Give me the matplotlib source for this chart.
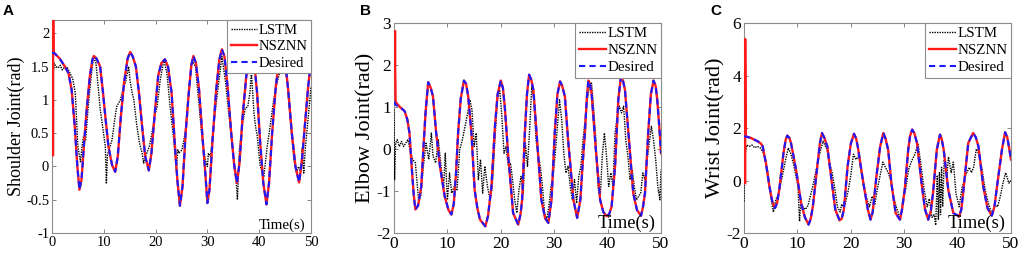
import numpy as np
import matplotlib
matplotlib.use('Agg')
import matplotlib.pyplot as plt

# =============================================================================
# Data
# =============================================================================
# --- Panel A: shoulder joint ---
A_DES_T = [0, 0.5, 1.5, 2.5, 3.2, 3.8, 4.4, 4.9, 5.3, 5.7, 6.2, 6.7, 7.3, 7.8, 8.1,
           8.6, 9.3, 9.8, 10.3, 10.9, 11.6, 12.2, 12.7, 13.3, 13.9, 14.6, 15.1,
           15.6, 16.2, 16.8, 17.4, 18.0, 18.7, 19.2, 19.9, 20.5, 21.1, 21.8, 22.4,
           23.1, 23.7, 24.2, 24.7, 25.2, 25.8, 26.4, 26.9, 27.3, 27.8, 28.4, 29.0,
           29.6, 30.0, 30.4, 31.0, 31.7, 32.3, 32.8, 33.3, 33.9, 34.6, 35.2, 35.7,
           36.2, 36.8, 37.5, 38.0, 38.5, 39.0, 39.6, 40.2, 40.8, 41.4, 41.9, 42.5,
           43.2, 43.9, 44.5, 45.0, 45.6, 46.3, 47.0, 47.7, 48.2, 48.8, 49.4, 50.0]
A_DES_V = [1.71, 1.70, 1.62, 1.50, 1.40, 1.15, 0.60, 0.00, -0.35, -0.20, 0.35, 0.85,
           1.35, 1.60, 1.66, 1.62, 1.50, 1.15, 0.75, 0.30, 0.02, -0.08, 0.15, 0.75,
           1.25, 1.62, 1.72, 1.65, 1.50, 1.10, 0.60, 0.15, -0.06, 0.20, 0.85, 1.36,
           1.55, 1.61, 1.50, 1.10, 0.35, -0.20, -0.59, -0.30, 0.50, 1.10, 1.52, 1.66,
           1.55, 1.15, 0.50, -0.10, -0.55, -0.35, 0.40, 1.15, 1.60, 1.76, 1.65, 1.20,
           0.50, 0.00, -0.25, 0.05, 0.75, 1.35, 1.62, 1.72, 1.60, 1.10, 0.35, -0.25,
           -0.57, -0.25, 0.50, 1.20, 1.62, 1.72, 1.60, 1.15, 0.50, 0.00, -0.24, 0.05,
           0.60, 1.15, 1.60]
A_LSTM_T = [0, 0.2, 0.4, 0.8, 1.2, 1.6, 2.0, 2.5, 3.0, 3.5, 4.0, 4.5, 5.0, 5.5, 5.8,
            6.1, 6.5, 7.0, 7.5, 8.0, 8.5, 9.3, 10.0, 10.3, 10.5, 10.7, 11.2, 11.6,
            12.1, 12.5, 13.2, 13.7, 14.2, 14.8, 15.1, 15.5, 15.8, 16.4, 16.9, 17.4,
            17.7, 18.0, 18.3, 18.8, 19.3, 19.8, 20.3, 20.9, 21.6, 22.2, 22.8, 23.5,
            24.0, 24.3, 24.5, 25.1, 25.7, 26.4, 27.0, 27.7, 28.3, 29.0, 29.6, 30.0,
            30.2, 30.6, 31.2, 31.7, 32.2, 32.8, 33.5, 34.4, 35.1, 35.4, 35.8, 36.2,
            36.7, 37.3, 37.8, 38.2, 38.5, 39.0, 39.3, 39.6, 40.2, 40.9, 41.5, 42.1,
            42.8, 43.3, 43.8, 44.3, 44.7, 45.4, 46.0, 46.7, 47.2, 47.6, 48.0, 48.3,
            48.6, 48.9, 49.5, 50.0]
A_LSTM_V = [1.60, 1.38, 1.55, 1.50, 1.48, 1.52, 1.45, 1.50, 1.48, 1.40, 1.32, 1.10,
            0.30, 0.07, 0.30, 0.45, 0.40, 0.90, 1.30, 1.65, 1.55, 0.87, 0.47, 0.30,
            -0.26, 0.17, 0.30, 0.40, 0.70, 0.90, 1.00, 1.15, 1.27, 1.50, 1.27, 1.10,
            1.00, 0.60, 0.35, 0.20, 0.05, 0.15, 0.20, 0.30, 0.50, 0.75, 0.90, 1.30,
            1.60, 1.40, 0.90, 0.40, -0.05, 0.25, 0.20, 0.25, 0.50, 1.10, 1.60, 1.50,
            1.00, 0.40, 0.10, 0.00, 0.20, 0.15, 0.60, 0.95, 1.27, 1.65, 1.27, 0.60,
            0.10, -0.05, -0.50, 0.27, 0.60, 0.87, 0.90, 1.10, 1.40, 0.80, 0.60, 0.47,
            0.00, -0.15, 0.27, 0.60, 1.00, 1.20, 1.37, 1.50, 1.60, 1.27, 0.70, 0.10,
            -0.10, 0.00, -0.08, 0.27, -0.10, 0.27, 0.77, 1.20]
A_NSZNN_T0 = [0.22, 0.22, 0.3]
A_NSZNN_V0 = [0.17, 2.6, 1.71]

# --- Panel B: elbow joint ---
B_DES_T = [0, 0.3, 1.1, 2.0, 2.5, 2.9, 3.3, 3.7, 4.0, 4.5, 5.1, 5.5, 5.9, 6.4, 6.9,
           7.3, 7.9, 8.6, 9.5, 10.2, 10.75, 11.2, 11.6, 12.0, 12.5, 13.1, 13.5,
           13.9, 14.5, 15.1, 15.6, 16.1, 17.1, 17.6, 18.25, 18.9, 19.4, 20.0, 20.4,
           20.75, 21.4, 22.3, 23.25, 23.7, 24.0, 24.5, 24.9, 25.3, 25.7, 26.1, 26.7,
           27.6, 28.3, 28.9, 29.5, 30.1, 30.6, 31.1, 31.5, 32.0, 32.6, 33.6, 34.3,
           34.9, 35.3, 35.75, 36.1, 36.4, 36.7, 37.0, 37.8, 38.6, 39.2, 39.8, 40.3,
           40.75, 41.4, 42.0, 42.5, 42.9, 43.25, 43.9, 44.8, 45.5, 46.25, 46.6, 47.0,
           47.6, 48.1, 48.6, 49.0, 49.3, 49.7, 50.0]
B_DES_V = [1.13, 1.05, 1.00, 0.90, 0.70, 0.38, -0.40, -1.10, -1.44, -1.35, -0.90,
           0.00, 0.85, 1.59, 1.45, 1.25, 0.38, -0.41, -1.13, -1.45, -1.56, -1.30,
           -0.60, 0.38, 1.20, 1.63, 1.55, 1.25, 0.38, -0.97, -1.40, -1.68, -1.84,
           -1.60, -0.89, 0.54, 1.30, 1.63, 1.45, 1.00, -0.17, -1.52, -1.80, -1.55,
           -1.20, 0.38, 1.30, 1.77, 1.65, 1.41, 0.38, -1.21, -1.65, -1.76, -1.21,
           0.38, 1.30, 1.61, 1.50, 1.25, 0.22, -1.21, -1.64, -1.21, -0.40, 0.38,
           1.20, 1.63, 1.55, 1.33, -0.02, -1.21, -1.50, -1.60, -1.55, -1.37, -0.41,
           1.17, 1.73, 1.62, 1.41, 0.38, -1.05, -1.45, -1.59, -1.40, -1.05, 0.38,
           1.30, 1.63, 1.50, 1.17, 0.50, -0.10]
B_LSTM_T = [0, 0.1, 0.3, 0.6, 1.0, 1.4, 1.8, 2.2, 2.6, 3.0, 3.5, 4.0, 4.6, 5.0, 5.5,
            6.0, 6.5, 7.0, 7.3, 7.8, 8.3, 8.8, 9.3, 9.6, 10.0, 10.4, 10.8, 11.3,
            11.8, 12.3, 12.8, 13.3, 13.8, 14.2, 14.6, 15.0, 15.4, 15.8, 16.2, 16.6,
            17.0, 17.5, 18.0, 18.4, 18.9, 19.4, 19.8, 20.2, 20.6, 21.0, 21.4, 21.8,
            22.2, 22.6, 23.0, 23.4, 23.8, 24.2, 24.6, 25.0, 25.4, 25.8, 26.2, 26.6,
            27.0, 27.4, 27.8, 28.2, 28.6, 29.0, 29.4, 29.8, 30.2, 30.6, 31.0, 31.4,
            31.8, 32.2, 32.6, 33.0, 33.4, 33.8, 34.2, 34.6, 35.0, 35.4, 35.8, 36.2,
            36.6, 37.0, 37.4, 37.8, 38.2, 38.6, 39.0, 39.4, 39.8, 40.2, 40.6, 41.0,
            41.4, 41.8, 42.2, 42.6, 43.0, 43.4, 43.8, 44.2, 44.6, 45.0, 45.4, 45.8,
            46.2, 46.6, 47.0, 47.4, 47.8, 48.2, 48.6, 49.0, 49.4, 49.8, 50.0]
B_LSTM_V = [0.94, -0.73, 0.14, 0.22, 0.06, 0.18, 0.06, 0.14, 0.22, -0.02, -0.25,
            -0.33, -1.21, -1.13, -0.41, 0.14, -0.25, 0.38, -0.17, -0.33, 0.22, -0.41,
            -0.89, -0.10, -1.21, -0.57, -1.05, -0.89, -0.97, -0.02, 0.22, 0.54, 0.86,
            1.17, 0.94, 0.06, 0.38, -0.73, -0.25, -1.05, -0.41, -0.89, -1.21, -0.89,
            0.22, 1.25, 1.41, 0.78, -0.10, 0.06, -0.41, -0.33, -0.73, -1.21, -1.52,
            -0.97, -0.65, -1.05, 0.14, -0.41, 0.46, 1.49, 1.17, 0.22, -0.17, -0.41,
            -0.89, -1.52, -1.68, -1.37, -0.89, -0.65, -0.10, 0.54, 1.17, 0.70, -0.10,
            -0.57, -0.41, -0.89, -1.21, -0.73, -1.29, -0.65, -0.41, 0.22, 0.70, 1.17,
            1.49, 1.57, 0.94, 0.22, -0.89, -1.21, -0.17, 0.38, -0.17, -0.89, -0.57,
            -0.89, 0.38, 0.78, 1.02, 0.86, 1.02, 0.22, -0.17, -0.73, -0.49, -0.89,
            -1.21, -1.13, -1.05, -0.57, -0.73, -0.25, 0.14, 0.54, 0.22, -0.25, -0.89,
            -1.21, -0.49]
B_NSZNN_T0 = [0.22, 0.22, 0.3]
B_NSZNN_V0 = [2.8, 1.9, 1.12]

# --- Panel C: wrist joint ---
C_DES_T = [0, 0.5, 1.3, 2.6, 3.2, 3.5, 4.1, 4.75, 5.3, 5.8, 6.2, 6.6, 7.4, 7.8, 8.1,
           8.5, 8.8, 9.75, 10.7, 11.4, 12.1, 12.5, 12.9, 13.8, 14.2, 14.6, 15.0,
           15.6, 16.3, 17.1, 17.9, 18.3, 18.7, 19.4, 20.0, 20.6, 21.0, 21.3, 22.25,
           23.2, 23.7, 24.1, 24.8, 25.5, 26.1, 26.5, 27.0, 27.6, 28.4, 29.2, 29.6,
           30.1, 30.75, 31.1, 31.5, 31.9, 32.4, 33.25, 33.9, 34.5, 35.0, 35.4, 36.1,
           36.7, 37.0, 37.4, 38.25, 39.2, 40.3, 40.7, 41.1, 42.0, 42.9, 43.4, 43.9,
           44.8, 45.6, 46.4, 46.9, 47.3, 48.3, 48.9, 49.3, 49.6, 50.0]
C_DES_V = [1.68, 1.67, 1.62, 1.49, 1.40, 1.30, 0.67, -0.22, -0.80, -1.05, -0.85,
           -0.35, 1.05, 1.55, 1.71, 1.62, 1.43, 0.41, -0.86, -1.40, -1.68, -1.45,
           -0.98, 0.67, 1.40, 1.81, 1.65, 1.30, 0.16, -1.11, -1.52, -1.45, -1.11,
           0.54, 1.40, 1.78, 1.60, 1.30, 0.03, -1.11, -1.49, -1.20, 0.16, 1.30,
           1.81, 1.60, 1.17, -0.10, -1.24, -1.49, -1.10, -0.35, 1.17, 1.70, 1.94,
           1.80, 1.43, -0.10, -1.10, -1.49, -1.15, -0.48, 1.17, 1.75, 1.60, 1.17,
           -0.35, -1.24, -1.37, -1.10, -0.35, 1.43, 1.81, 1.65, 1.30, -0.22, -1.05,
           -1.34, -1.00, -0.35, 1.17, 1.84, 1.65, 1.30, 0.80]
C_LSTM_T = [0, 0.05, 0.2, 0.5, 1.0, 1.5, 2.0, 2.5, 3.0, 3.5, 4.0, 4.5, 5.0, 5.5, 6.0,
            6.5, 7.0, 7.3, 7.8, 8.3, 8.8, 9.3, 9.8, 10.1, 10.4, 10.6, 11.0, 11.5,
            12.0, 12.4, 12.8, 13.3, 14.0, 14.8, 15.5, 16.0, 16.5, 17.0, 17.5, 18.0,
            18.3, 18.7, 19.0, 19.5, 20.0, 20.5, 21.0, 21.5, 22.0, 22.5, 23.0, 23.5,
            24.0, 24.5, 25.0, 25.5, 26.0, 26.5, 27.0, 27.5, 28.0, 28.5, 29.0, 29.3,
            29.7, 30.3, 30.8, 31.3, 32.0, 32.6, 33.2, 33.7, 34.3, 34.7, 35.2, 35.6,
            35.9, 36.2, 36.4, 36.6, 36.8, 37.0, 37.2, 37.5, 38.0, 38.3, 38.8, 39.2,
            39.7, 40.3, 40.8, 41.5, 42.2, 42.6, 43.0, 43.5, 44.0, 44.6, 45.2, 45.8,
            46.5, 47.0, 47.5, 48.0, 48.5, 49.0, 49.6, 50.0]
C_LSTM_V = [-0.80, 1.20, 1.00, 1.35, 1.30, 1.35, 1.25, 1.30, 1.25, 1.10, 0.80, 0.30,
            -0.60, -1.20, -0.70, -0.50, 0.00, 0.30, 0.80, 1.24, 1.00, 0.60, 0.10,
            -0.20, -1.56, -0.90, -1.00, -1.10, -0.95, -0.60, -0.30, 0.20, 0.90, 1.50,
            1.20, 0.70, 0.30, -0.30, -1.00, -1.20, -0.90, -1.05, -0.85, -0.40, 0.20,
            1.00, 0.80, 0.95, 0.30, -0.30, -0.70, -1.00, -0.60, -0.90, -0.30, 0.20,
            0.70, 0.50, 0.30, 0.00, -0.60, -1.00, -1.30, -1.50, -0.80, -0.30, 0.40,
            0.70, 1.00, 1.40, 0.50, -0.30, -1.00, -0.70, -1.40, -1.30, -1.70, 0.20,
            -1.50, 0.30, -1.30, 0.50, -1.00, 0.80, 0.20, 0.90, 0.30, 0.70, -0.50,
            -1.00, -0.30, 0.20, 0.50, 0.30, 0.50, 1.20, 1.00, 0.40, -0.40, -0.90,
            -1.30, -0.90, -1.00, -0.60, -0.10, 0.30, -0.10, 0.00]
C_NSZNN_T0 = [0.22, 0.22, 0.3]
C_NSZNN_V0 = [-0.1, 5.39, 1.68]

LABELS = ['LSTM', 'NSZNN', 'Desired']

# =============================================================================
# Plot
# =============================================================================
plt.rcParams['font.family'] = 'Liberation Serif'

fig = plt.figure(figsize=(10.21, 2.56), dpi=100)

# [left, bottom, width, height]
pos_a = [0.0509, 0.0898, 0.2537, 0.8320]
pos_b = [0.3859, 0.0898, 0.2615, 0.8203]
pos_c = [0.7287, 0.0898, 0.2615, 0.8203]

panels = [
    (pos_a, 'A', A_DES_T, A_DES_V, A_LSTM_T, A_LSTM_V, A_NSZNN_T0, A_NSZNN_V0,
     (-1, 2.2), np.arange(-1, 2.01, 0.5), ['-1', '-0.5', '0', '0.5', '1', '1.5', '2'],
     'Shoulder Joint(rad)', 13, 10.5, 10.8, 10.5),
    (pos_b, 'B', B_DES_T, B_DES_V, B_LSTM_T, B_LSTM_V, B_NSZNN_T0, B_NSZNN_V0,
     (-2, 3), np.arange(-2, 3.01, 1), ['-2', '-1', '0', '1', '2', '3'],
     'Elbow Joint(rad)', 16, 12.5, 13.2, 10.8),
    (pos_c, 'C', C_DES_T, C_DES_V, C_LSTM_T, C_LSTM_V, C_NSZNN_T0, C_NSZNN_V0,
     (-2, 6), np.arange(-2, 6.01, 2), ['-2', '0', '2', '4', '6'],
     'Wrist Joint(rad)', 16, 12.5, 13.2, 10.8),
]

for (pos, letter, des_t, des_v, lstm_t, lstm_v, n_t0, n_v0, ylim, yticks,
     yticklabels, ylabel, ylab_fs, tick_fs, time_fs, leg_fs) in panels:
    ax = fig.add_axes(pos)
    des_t = np.array(des_t)
    des_v = np.array(des_v)
    keep = des_t > n_t0[-1]
    nsznn_t = np.concatenate([n_t0, des_t[keep]])
    nsznn_v = np.concatenate([n_v0, des_v[keep]])

    ax.plot(lstm_t, lstm_v, linestyle=(0, (1, 0.8)), linewidth=1.0,
            color='black', label=LABELS[0], zorder=3)
    ax.plot(nsznn_t, nsznn_v, linestyle='-', linewidth=1.7, color='#ff1a1a',
            label=LABELS[1], zorder=3)
    ax.plot(des_t, des_v, linestyle=(0, (3, 2)), linewidth=1.5, color='#1a1aff',
            label=LABELS[2], zorder=3)

    ax.set_xlim(0, 50)
    ax.set_ylim(*ylim)
    ax.set_xticks(np.arange(0, 51, 10))
    ax.set_yticks(yticks)
    ax.set_yticklabels(yticklabels)
    ax.tick_params(direction='in', top=True, right=True, length=3, width=0.6,
                   color='0.45', labelsize=tick_fs, pad=2)
    for sp in ax.spines.values():
        sp.set_color('0.55')
        sp.set_linewidth(0.8)
    ax.set_ylabel(ylabel, fontsize=ylab_fs, labelpad=1)

    ax.text(0.98, 0.005, 'Time(s)', transform=ax.transAxes, ha='right',
            va='bottom', fontsize=time_fs, zorder=5)

    leg = ax.legend(loc='upper right', fontsize=leg_fs, fancybox=False,
                    framealpha=1, edgecolor='0.55', borderaxespad=0,
                    borderpad=0.25, labelspacing=0.22, handlelength=1.8,
                    handletextpad=0.1)
    leg.get_frame().set_linewidth(0.8)
    leg.set_zorder(6)

    # panel letter
    fig.text(pos[0] - 0.048 if letter == 'A' else pos[0] - 0.033,
             0.985, letter, ha='left', va='top', fontsize=11,
             fontweight='bold', family='Liberation Sans')

fig.savefig('out.png', dpi=100)
